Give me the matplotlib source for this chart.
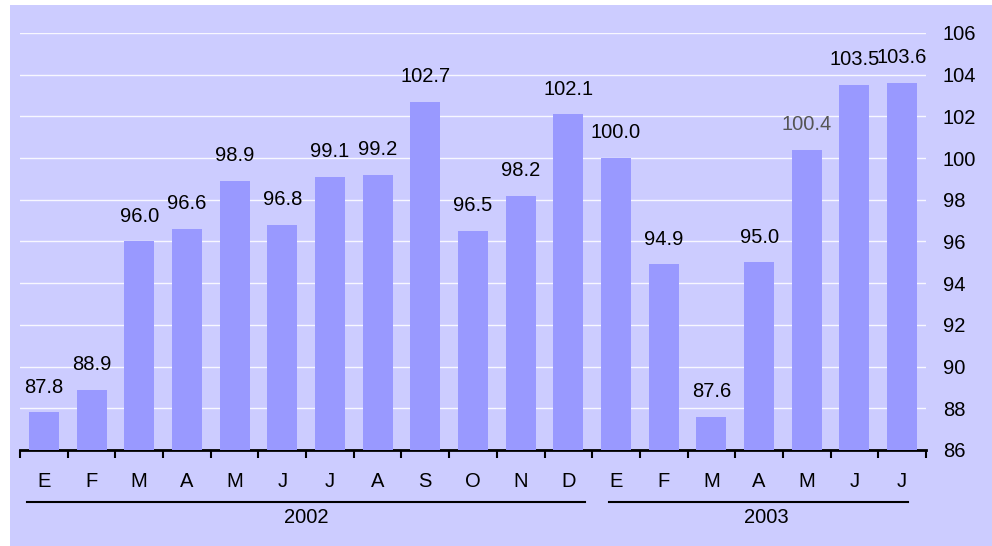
import numpy as np
import matplotlib.pyplot as plt
from matplotlib.patches import Rectangle
from matplotlib.lines import Line2D

plt.rcParams['font.family'] = ['Liberation Sans', 'DejaVu Sans']

months = ['E', 'F', 'M', 'A', 'M', 'J', 'J', 'A', 'S', 'O', 'N', 'D',
          'E', 'F', 'M', 'A', 'M', 'J', 'J']
values = [87.8, 88.9, 96.0, 96.6, 98.9, 96.8, 99.1, 99.2, 102.7, 96.5, 98.2, 102.1,
          100.0, 94.9, 87.6, 95.0, 100.4, 103.5, 103.6]
years = ['2002', '2003']
year_spans = [(0, 11), (12, 18)]

BG = '#ccccff'
BAR = '#9999ff'
FS = 14.5

fig = plt.figure(figsize=(9.92, 5.46), dpi=100)
fig.patch.set_facecolor('white')
fig.patches.append(Rectangle((10 / 992, 0), 982 / 992, 541 / 546,
                             transform=fig.transFigure, facecolor=BG,
                             edgecolor='none', zorder=-10))

ax = fig.add_axes([20 / 992, 96 / 546, 906 / 992, 417 / 546])
ax.set_facecolor(BG)
x = np.arange(len(values))
ax.bar(x, values, width=0.63, color=BAR, zorder=3, bottom=0)
ax.set_ylim(86, 106)
ax.set_xlim(-0.5, len(values) - 0.5)

for y in np.arange(88, 107, 2):
    ax.axhline(y, color='white', lw=1.0, alpha=0.85, zorder=1)

for i, v in enumerate(values):
    col = '#555555' if i == 16 else 'black'
    ax.text(i, v + 0.75, f'{v:.1f}', ha='center', va='bottom', fontsize=FS,
            color=col, zorder=4)

ax.yaxis.tick_right()
ax.set_yticks(np.arange(86, 107, 2))
ax.tick_params(axis='y', length=0, labelsize=FS, pad=12)
ax.set_xticks(np.arange(-0.5, len(values), 1))
ax.set_xticklabels([])
ax.tick_params(axis='x', direction='out', length=6, width=1.5, color='black')
ax.set_xticks(x, minor=True)
ax.set_xticklabels(months, minor=True, fontsize=FS)
ax.tick_params(axis='x', which='minor', length=0, pad=16)
for s in ['top', 'right', 'left']:
    ax.spines[s].set_visible(False)
ax.spines['bottom'].set_linewidth(2)

# year underlines and labels
trans = ax.get_xaxis_transform()
line_ext = [(-0.35, 0.35), (-0.15, 0.12)]
label_shift = [0.0, 0.15]
for yr, (a, b), (l, r), sh in zip(years, year_spans, line_ext, label_shift):
    ax.add_line(Line2D([a + l, b + r], [-0.125, -0.125], transform=trans,
                       color='black', lw=1.5, clip_on=False))
    ax.text((a + b) / 2 + sh, -0.14, yr, transform=trans, ha='center',
            va='top', fontsize=FS)

fig.savefig('out.png', dpi=100, facecolor=fig.get_facecolor())
